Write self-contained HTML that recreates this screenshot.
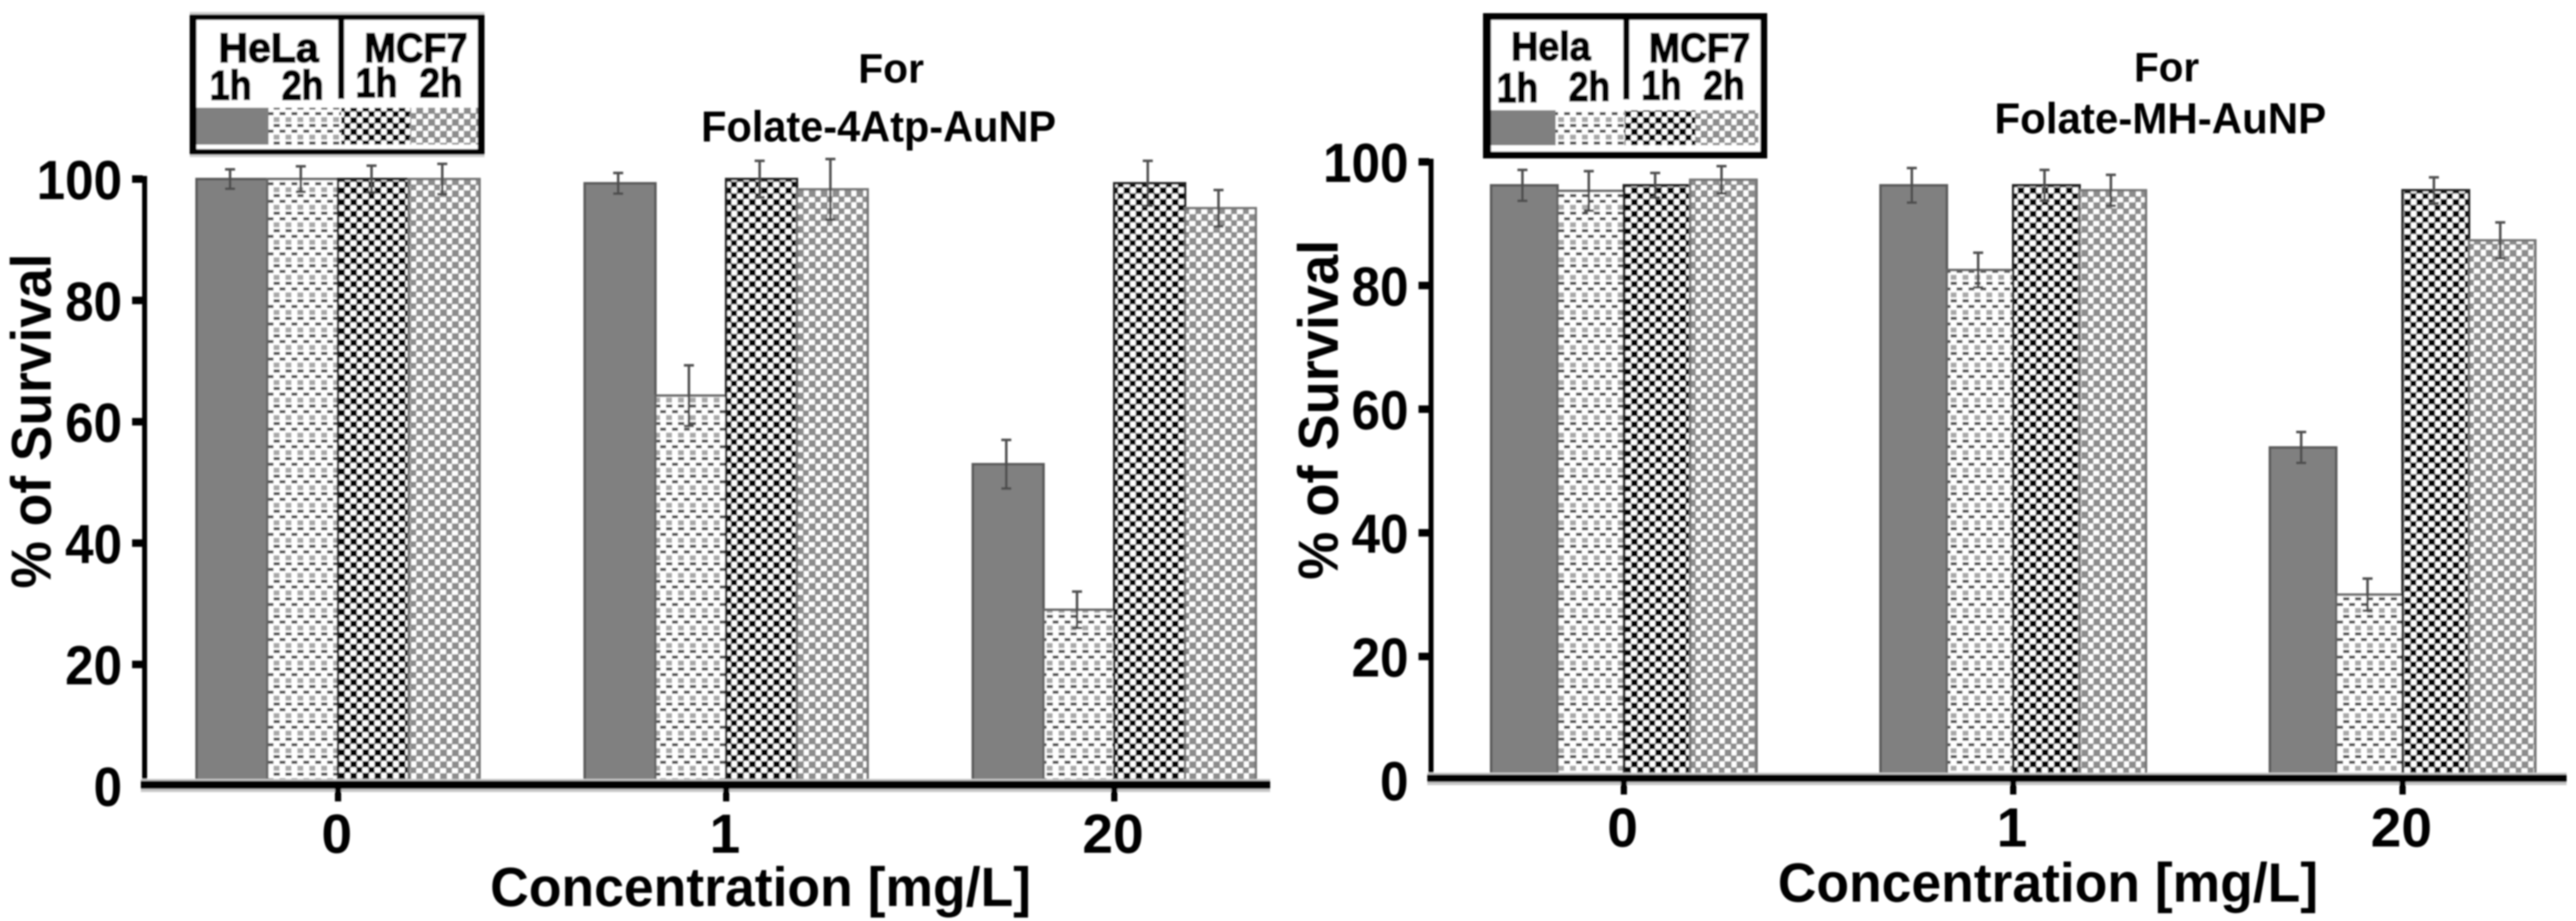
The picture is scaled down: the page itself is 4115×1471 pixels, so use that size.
<!DOCTYPE html>
<html lang="en">
<head>
<meta charset="utf-8">
<title>Survival charts for Folate-4Atp-AuNP and Folate-MH-AuNP</title>
<style>
html,body{margin:0;padding:0;background:#fff;width:4115px;height:1471px;overflow:hidden}
svg{display:block}
text{font-family:"Liberation Sans",Arial,sans-serif;font-weight:bold;fill:#000}
.legend-text{stroke:#000;stroke-width:2.5px}
</style>
</head>
<body>
<svg id="figure" xmlns="http://www.w3.org/2000/svg" width="4115" height="1471" viewBox="0 0 4115 1471">
  <defs>
    <pattern id="p-dash" patternUnits="userSpaceOnUse" width="19" height="28">
      <rect width="19" height="28" fill="#fff"/>
      <rect x="0" y="2" width="10" height="5" fill="#4c4c4c"/>
      <rect x="9.5" y="11" width="9.5" height="5" fill="#4c4c4c"/>
      <rect x="0" y="19" width="9.5" height="8" fill="#a8a8a8"/>
    </pattern>
    <pattern id="p-check-dark" patternUnits="userSpaceOnUse" width="19.3" height="18.7">
      <rect width="19.3" height="18.7" fill="#fff"/>
      <rect x="0" y="0" width="10.5" height="10" fill="#000"/>
      <rect x="9.65" y="9.35" width="9.65" height="9.35" fill="#000"/>
    </pattern>
    <pattern id="p-check-light" patternUnits="userSpaceOnUse" width="19" height="19">
      <rect width="19" height="19" fill="#fff"/>
      <rect x="0" y="0" width="11" height="11" fill="#8c8c8c"/>
      <rect x="9.5" y="9.5" width="9.5" height="9.5" fill="#8c8c8c"/>
    </pattern>
    <filter id="soft" filterUnits="userSpaceOnUse" x="0" y="0" width="4115" height="1471">
      <feGaussianBlur stdDeviation="1.2"/>
    </filter>
  </defs>
  <rect x="0" y="0" width="4115" height="1471" fill="#fff"/>
  <g id="root" filter="url(#soft)">

    <g id="panel-left">
      <text x="1371" y="132" font-size="66" textLength="105" lengthAdjust="spacingAndGlyphs">For</text>
      <text x="1120" y="226" font-size="70" textLength="567" lengthAdjust="spacingAndGlyphs">Folate-4Atp-AuNP</text>
      <text transform="translate(81,940) rotate(-90)" x="0" y="0" font-size="90" textLength="535" lengthAdjust="spacingAndGlyphs">% of Survival</text>
      <text x="783" y="1447" font-size="88" textLength="864" lengthAdjust="spacingAndGlyphs">Concentration [mg/L]</text>
      <g>
        <rect x="303" y="19" width="471" height="232" fill="#d0d0d0"/>
        <rect x="303" y="23" width="471" height="224" fill="#000"/>
        <rect x="314" y="32" width="449" height="206" fill="#fff"/>
        <rect x="540" y="32" width="10" height="126" fill="#000"/>
        <rect x="314" y="172" width="115" height="59" fill="#808080"/>
        <rect x="429" y="172" width="116" height="59" fill="url(#p-dash)"/>
        <rect x="545" y="172" width="110" height="59" fill="url(#p-check-dark)"/>
        <rect x="655" y="172" width="108" height="59" fill="url(#p-check-light)"/>
        <text class="legend-text" x="349" y="99" font-size="66" textLength="160" lengthAdjust="spacingAndGlyphs">HeLa</text>
        <text class="legend-text" x="582" y="99" font-size="66" textLength="165" lengthAdjust="spacingAndGlyphs">MCF7</text>
        <text class="legend-text" x="335" y="159" font-size="66" textLength="67" lengthAdjust="spacingAndGlyphs">1h</text>
        <text class="legend-text" x="450" y="159" font-size="66" textLength="67" lengthAdjust="spacingAndGlyphs">2h</text>
        <text class="legend-text" x="568" y="155" font-size="66" textLength="67" lengthAdjust="spacingAndGlyphs">1h</text>
        <text class="legend-text" x="670" y="155" font-size="66" textLength="69" lengthAdjust="spacingAndGlyphs">2h</text>
      </g>
    </g>

    <g id="panel-right">
      <text x="3409" y="130" font-size="66" textLength="104" lengthAdjust="spacingAndGlyphs">For</text>
      <text x="3186" y="213" font-size="70" textLength="530" lengthAdjust="spacingAndGlyphs">Folate-MH-AuNP</text>
      <text transform="translate(2137,926) rotate(-90)" x="0" y="0" font-size="90" textLength="543" lengthAdjust="spacingAndGlyphs">% of Survival</text>
      <text x="2840" y="1440" font-size="88" textLength="863" lengthAdjust="spacingAndGlyphs">Concentration [mg/L]</text>
      <g>
        <rect x="2369" y="21" width="454" height="232" fill="#000"/>
        <rect x="2382" y="32" width="430" height="210" fill="#fff"/>
        <rect x="2593" y="32" width="10" height="127" fill="#000"/>
        <rect x="2382" y="176" width="103" height="56" fill="#808080"/>
        <rect x="2485" y="176" width="110" height="56" fill="url(#p-dash)"/>
        <rect x="2595" y="176" width="113" height="56" fill="url(#p-check-dark)"/>
        <rect x="2708" y="176" width="101" height="56" fill="url(#p-check-light)"/>
        <text class="legend-text" x="2414" y="96" font-size="64" textLength="127" lengthAdjust="spacingAndGlyphs">Hela</text>
        <text class="legend-text" x="2634" y="99" font-size="66" textLength="162" lengthAdjust="spacingAndGlyphs">MCF7</text>
        <text class="legend-text" x="2391" y="163" font-size="66" textLength="66" lengthAdjust="spacingAndGlyphs">1h</text>
        <text class="legend-text" x="2506" y="161" font-size="66" textLength="66" lengthAdjust="spacingAndGlyphs">2h</text>
        <text class="legend-text" x="2622" y="159" font-size="66" textLength="64" lengthAdjust="spacingAndGlyphs">1h</text>
        <text class="legend-text" x="2721" y="159" font-size="66" textLength="66" lengthAdjust="spacingAndGlyphs">2h</text>
      </g>
    </g>
  </g>
</svg>
<script>
const categories = ["0", "1", "20"];
const yTickValues = [0, 20, 40, 60, 80, 100];
const yTickLabels = ["0", "20", "40", "60", "80", "100"];
const seriesNames = ["hela-1h", "hela-2h", "mcf7-1h", "mcf7-2h"];

const atpHela1h = [100, 99.3, 53];
const atpHela2h = [100, 64.3, 29];
const atpMcf1h = [100, 100, 99.3];
const atpMcf2h = [100, 98.3, 95.2];
const atpHela1hErr = [1.6, 1.7, 4];
const atpHela2hErr = [2.1, 5, 3];
const atpMcf1hErr = [2.2, 3, 3.7];
const atpMcf2hErr = [2.5, 5, 3];

const mhHela1h = [96.2, 96.2, 53.8];
const mhHela2h = [95.3, 82.5, 30];
const mhMcf1h = [96.2, 96.2, 95.4];
const mhMcf2h = [97.1, 95.4, 87.3];
const mhHela1hErr = [2.5, 2.8, 2.5];
const mhHela2hErr = [3.2, 2.8, 2.6];
const mhMcf1hErr = [2, 2.5, 2.1];
const mhMcf2hErr = [2.2, 2.5, 2.9];

const NS = "http://www.w3.org/2000/svg";
const fills = ["#808080", "url(#p-dash)", "url(#p-check-dark)", "url(#p-check-light)"];
const strokes = ["#5a5a5a", "#666", "#222", "#777"];

function shape(parent, tag, attrs) {
  const el = document.createElementNS(NS, tag);
  for (const k in attrs) el.setAttribute(k, attrs[k]);
  parent.appendChild(el);
  return el;
}

function drawPanel(parentId, cfg, values, errors) {
  const parent = document.getElementById(parentId);
  const yScale = v => cfg.y0 - cfg.pxPerUnit * v;
  const xBand = i => cfg.x0 + cfg.step * i;

  values.forEach((series, s) => {
    series.forEach((v, c) => {
      const bar = shape(parent, "rect", {
        x: xBand(c) + (s - 2) * cfg.barW,
        y: yScale(v),
        width: cfg.barW,
        height: cfg.y0 - yScale(v),
        fill: fills[s],
        stroke: strokes[s],
        "stroke-width": 4
      });
      
      
    });
  });

  errors.forEach((series, s) => {
    series.forEach((e, c) => {
      const cx = xBand(c) + (s - 1.5) * cfg.barW - 3;
      const v = values[s][c];
      const hi = yScale(v + e);
      const lo = yScale(v - e);
      const err = shape(parent, "path", {
        d: "M" + (cx - 8) + " " + hi + "H" + (cx + 8) + "M" + cx + " " + hi + "V" + lo + "M" + (cx - 8) + " " + lo + "H" + (cx + 8),
        fill: "none",
        stroke: "#4d4d4d",
        "stroke-width": 4
      });
      
      
    });
  });

  const yAxis = shape(parent, "rect", {
    x: cfg.axisX, y: yScale(100) - 5, width: cfg.axisW, height: cfg.y0 - yScale(100) + 10, fill: "#000"
  });
  
  

  const xShadow = shape(parent, "rect", {
    x: cfg.axisX - 2, y: cfg.baseTop - 3, width: cfg.axisEnd - cfg.axisX + 2, height: cfg.baseH + 8, fill: "#c8c8c8"
  });
  
  

  const xAxis = shape(parent, "rect", {
    x: cfg.axisX - 2, y: cfg.baseTop, width: cfg.axisEnd - cfg.axisX + 2, height: cfg.baseH, fill: "#000"
  });
  
  

  yTickValues.forEach((v, i) => {
    if (v !== 0) {
      const tick = shape(parent, "rect", {
        x: cfg.axisX - 16, y: yScale(v) - 6, width: 17, height: 12, fill: "#000"
      });
      
      
    }
    const label = shape(parent, "text", {
      x: cfg.axisX - 32,
      y: yScale(v) + 32,
      "font-size": 88,
      "text-anchor": "end",
      textLength: yTickLabels[i].length * 45.5,
      lengthAdjust: "spacingAndGlyphs"
    });
    label.textContent = yTickLabels[i];
    
    
  });

  categories.forEach((c, i) => {
    const tick = shape(parent, "rect", {
      x: xBand(i) - 5, y: cfg.baseTop + cfg.baseH, width: 10, height: 20, fill: "#000"
    });
    
    
    const label = shape(parent, "text", {
      x: xBand(i) - 2,
      y: cfg.labelY,
      "font-size": 88,
      "text-anchor": "middle"
    });
    label.textContent = c;
    
    
  });
}

drawPanel("panel-left",
  { x0: 540, step: 620, barW: 113, y0: 1255, pxPerUnit: 9.69, axisX: 227, axisW: 8, axisEnd: 2029, baseTop: 1247, baseH: 13, labelY: 1362 },
  [atpHela1h, atpHela2h, atpMcf1h, atpMcf2h],
  [atpHela1hErr, atpHela2hErr, atpMcf1hErr, atpMcf2hErr]);

drawPanel("panel-right",
  { x0: 2594, step: 622, barW: 106, y0: 1246, pxPerUnit: 9.875, axisX: 2282, axisW: 8, axisEnd: 4100, baseTop: 1237, baseH: 12, labelY: 1352 },
  [mhHela1h, mhHela2h, mhMcf1h, mhMcf2h],
  [mhHela1hErr, mhHela2hErr, mhMcf1hErr, mhMcf2hErr]);
</script>
</body>
</html>
